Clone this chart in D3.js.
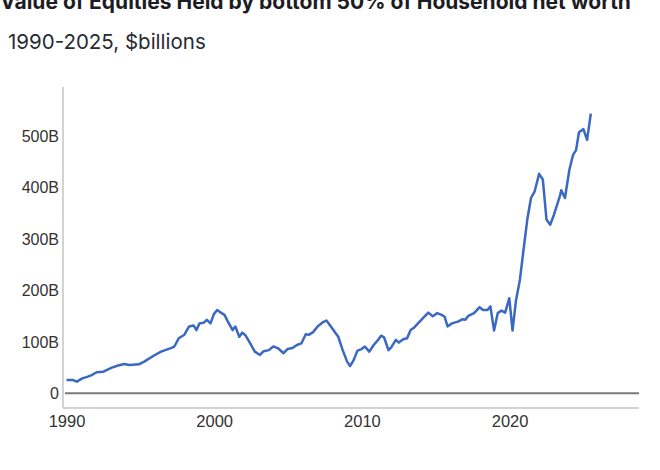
<!DOCTYPE html>
<html>
<head>
<meta charset="utf-8">
<script src="https://cdn.jsdelivr.net/npm/d3@7"></script>
<style>
  body { margin: 0; background: #fff; }
  svg { display: block; }
</style>
</head>
<body>
<div id="chart"></div>
<script>
// readings, decimal year -> $billions
var years = [1990.0, 1990.4, 1990.7, 1991.07, 1991.4, 1991.75, 1992.04, 1992.5, 1993.07, 1993.5,
  1993.9, 1994.25, 1994.9, 1995.26, 1995.9, 1996.4, 1997.07, 1997.3, 1997.6, 1997.98,
  1998.3, 1998.6, 1998.8, 1999.0, 1999.3, 1999.5, 1999.75, 1999.98, 2000.2, 2000.5,
  2000.7, 2000.9, 2001.25, 2001.43, 2001.7, 2001.9, 2002.1, 2002.5, 2002.75, 2003.1,
  2003.35, 2003.7, 2004.0, 2004.3, 2004.7, 2004.96, 2005.3, 2005.6, 2005.9, 2006.2,
  2006.4, 2006.7, 2007.0, 2007.4, 2007.6, 2007.9, 2008.2, 2008.4, 2008.7, 2009.0,
  2009.2, 2009.45, 2009.7, 2009.98, 2010.2, 2010.5, 2010.8, 2011.1, 2011.3, 2011.5,
  2011.8, 2012.0, 2012.3, 2012.5, 2012.8, 2013.06, 2013.3, 2013.5, 2013.8, 2014.2,
  2014.5, 2014.8, 2015.1, 2015.4, 2015.6, 2015.8, 2016.1, 2016.5, 2016.8, 2017.0,
  2017.2, 2017.6, 2017.97, 2018.2, 2018.5, 2018.7, 2018.95, 2019.2, 2019.45, 2019.7,
  2019.98, 2020.2, 2020.43, 2020.7, 2021.0, 2021.2, 2021.45, 2021.7, 2022.0, 2022.25,
  2022.5, 2022.75, 2023.0, 2023.4, 2023.5, 2023.75, 2024.05, 2024.3, 2024.5, 2024.7,
  2025.0, 2025.25, 2025.5];
var values = [26, 26, 22.6, 29, 32, 36, 41, 42, 50, 54,
  57, 55, 56.5, 61.6, 73, 81, 88, 91, 107, 114,
  130, 132, 123, 136, 137.5, 143, 136, 154, 162, 156,
  152.5, 141, 123, 130, 110, 118, 113.6, 94, 81, 74.6,
  82, 84, 91, 88, 78, 86, 88, 94, 97, 115,
  113.6, 119, 130, 139, 141.5, 130, 118, 110, 84, 61.6,
  53, 65, 83, 86, 91, 81, 94, 104, 112, 109,
  84, 90, 104, 98.6, 105, 107, 123, 127, 136, 148,
  157, 150, 156, 152.5, 149, 130, 136, 139.5, 144, 143,
  150.6, 156, 167.5, 162, 162, 169, 122, 156, 161, 157,
  185, 122, 180, 221, 292, 338, 380, 393, 427, 416,
  338, 328, 347, 383, 395, 380, 435, 464, 473, 508,
  514, 493, 544];

var xTicks = [1990, 2000, 2010, 2020];
var yTicks = [0, 100, 200, 300, 400, 500];

var title = "Value of Equities Held by bottom 50% of Household net worth";
var subtitle = "1990-2025, $billions";

var W = 660, H = 470;
var svg = d3.select("#chart").append("svg")
    .attr("width", W)
    .attr("height", H);

var x = d3.scaleLinear().domain([1990, 2029]).range([66.5, 642.5]);
var y = d3.scaleLinear().domain([0, 500]).range([393.3, 136.3]);

// titles (the top of the title sits above the frame, as in the source)
svg.append("text")
    .attr("x", 0)
    .attr("y", 9)
    .style("font-family", "Inter, sans-serif")
    .style("font-weight", 700)
    .style("font-size", "21px")
    .style("fill", "#1c1c24")
    .text(title);

svg.append("text")
    .attr("x", 8)
    .attr("y", 49)
    .style("font-family", "Inter, sans-serif")
    .style("font-size", "20.5px")
    .style("fill", "#2a2a33")
    .text(subtitle);

// frame lines
svg.append("line")
    .attr("x1", 63).attr("x2", 63)
    .attr("y1", 87).attr("y2", 408)
    .style("stroke", "#c4c4c4").style("stroke-width", 1.5);
svg.append("line")
    .attr("x1", 63).attr("x2", 639)
    .attr("y1", 408).attr("y2", 408)
    .style("stroke", "#c4c4c4").style("stroke-width", 1.5);

// zero baseline
svg.append("line")
    .attr("x1", 65).attr("x2", 639)
    .attr("y1", y(0)).attr("y2", y(0))
    .style("stroke", "#7a7a7a").style("stroke-width", 2);

// y tick labels
var yAxis = d3.axisLeft(y)
    .tickValues(yTicks)
    .tickSize(0)
    .tickPadding(0)
    .tickFormat(function(d) { return d === 0 ? "0" : d + "B"; });
var gy = svg.append("g")
    .attr("transform", "translate(59,0)")
    .call(yAxis);
gy.select(".domain").remove();
gy.selectAll("text")
    .style("font-family", "'Liberation Sans', Arial, sans-serif")
    .style("font-size", "16px")
    .style("fill", "#333");

// x tick labels
var xAxis = d3.axisBottom(x)
    .tickValues(xTicks)
    .tickSize(0)
    .tickPadding(0)
    .tickFormat(d3.format("d"));
var gx = svg.append("g")
    .attr("transform", "translate(0,415)")
    .call(xAxis);
gx.select(".domain").remove();
gx.selectAll("text")
    .style("font-family", "'Liberation Sans', Arial, sans-serif")
    .style("font-size", "16.5px")
    .style("fill", "#333");

// the series
var data = years.map(function(yr, i) { return { yr: yr, v: values[i] }; });
var line = d3.line()
    .x(function(d) { return x(d.yr); })
    .y(function(d) { return y(d.v); });

svg.append("path")
    .datum(data)
    .attr("d", line)
    .style("fill", "none")
    .style("stroke", "#3a68c2")
    .style("stroke-width", 2.5)
    .style("stroke-linejoin", "round");
</script>
</body>
</html>
